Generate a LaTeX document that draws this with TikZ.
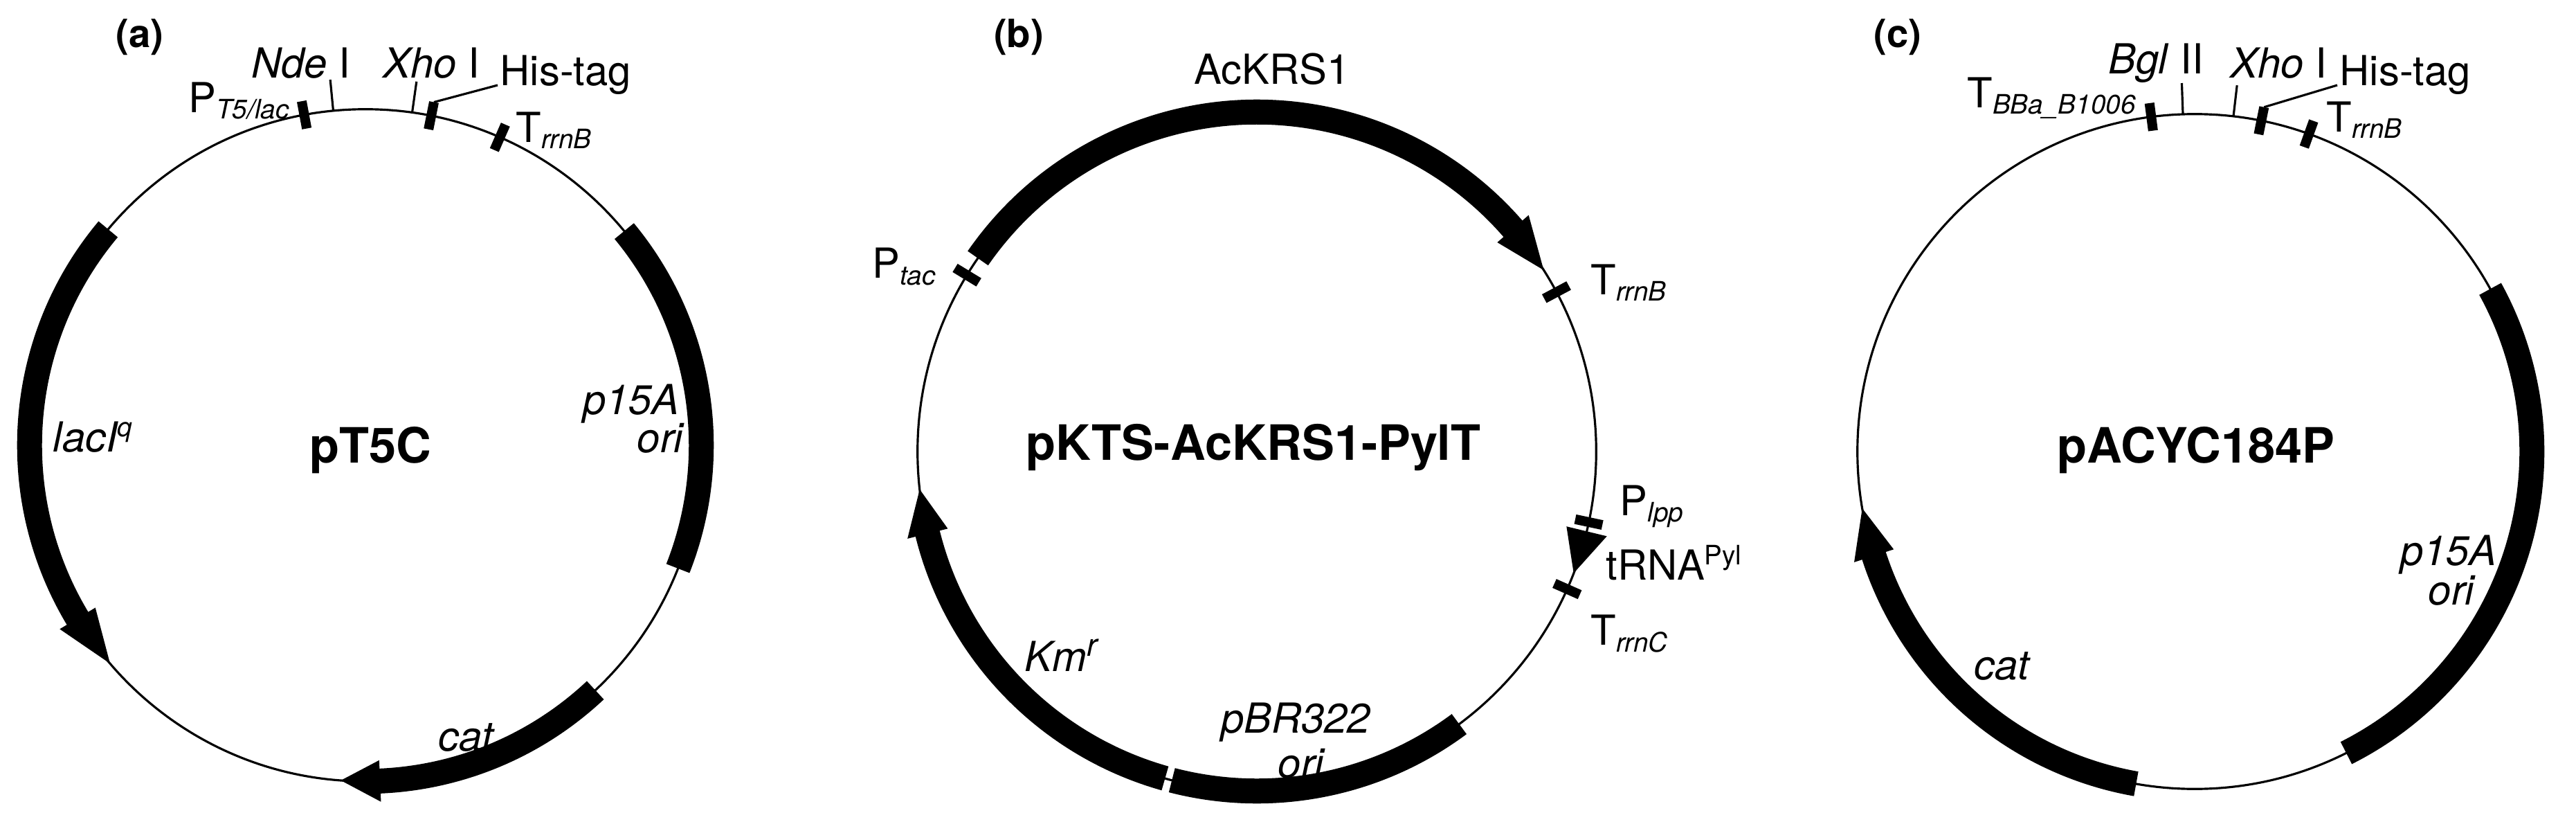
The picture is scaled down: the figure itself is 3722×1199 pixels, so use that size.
\documentclass[tikz,border=0pt]{standalone}
\usepackage{fontspec}
\setmainfont{TeX Gyre Heros}
\begin{document}
\begin{tikzpicture}[x=0.01cm,y=0.01cm,
  bb/.style={line width=0.36cm},
  thin/.style={line width=0.9pt},
  lbl/.style={font=\fontsize{17}{20}\selectfont,inner sep=0pt},
  ttl/.style={font=\fontsize{20}{24}\selectfont\bfseries,inner sep=0pt},
  pan/.style={font=\fontsize{16}{20}\selectfont\bfseries,inner sep=0pt}]
\newcommand{\sbs}[1]{\textsubscript{\itshape\fontsize{11}{12}\selectfont #1}}
\newcommand{\plband}[4]{\draw[bb] ([shift={(#3:#2cm)}]#1) arc[start angle=#3,end angle=#4,radius=#2cm];}
\newcommand{\plhead}[6]{\fill ([shift={(#5:#2cm)}]#1) -- ([shift={(#6:#3cm)}]#1) -- ([shift={(#5:#4cm)}]#1) -- cycle;}
\newcommand{\plbox}[4]{\draw[line width=0.14cm] ([shift={(#4:#2cm)}]#1) -- ([shift={(#4:#3cm)}]#1);}
\newcommand{\plsite}[4]{\draw[thin] ([shift={(#4:#2cm)}]#1) -- ([shift={(#4:#3cm)}]#1);}
\useasboundingbox (0,0) rectangle (3722,1199);
\fill[white] (0,0) rectangle (3722,1199);
% ---------------- (a)
\coordinate (A) at (528,556);
\draw[thin] (A) circle[radius=4.85cm];
\plband{A}{4.85}{140}{212}
\plhead{A}{4.55}{4.85}{5.15}{211}{220.5}
\plband{A}{4.85}{39.6}{-21.5}
\plband{A}{4.85}{-46.8}{-88}
\plhead{A}{4.55}{4.85}{5.15}{-87.5}{-94.2}
\plbox{A}{4.65}{5.05}{100.5}
\plsite{A}{4.85}{5.3}{95.5}
\plsite{A}{4.85}{5.3}{82}
\plbox{A}{4.65}{5.05}{78.7}
\plbox{A}{4.65}{5.05}{66.4}
\coordinate (aht) at (719,1076);
\draw[thin] ([shift={(78.7:5.05cm)}]A) -- (aht);
\node[pan] (pa) at (202,1145) {(a)};
\node[lbl] (nde) at (435,1108) {\itshape Nde\/\upshape\ I};
\node[lbl] (xhoa) at (623,1108) {\itshape Xho\/\upshape\ I};
\node[lbl,anchor=west] (hisa) at (722,1091) {His-tag};
\node[lbl,anchor=east] (pt5) at (420,1053) {P\sbs{T5/lac}};
\node[lbl,anchor=west] (trrna) at (745,1011) {T\sbs{rrnB}};
\node[lbl] (laci) at (135,568) {\itshape lacI\textsuperscript{\fontsize{11}{12}\selectfont q}};
\node[ttl] (pt5c) at (535,549) {pT5C};
\node[lbl] (p15a) at (912,616) {\itshape p15A};
\node[lbl] (oria) at (954,566) {\itshape ori};
\node[lbl] (cata) at (673,134) {\itshape cat};
% ---------------- (b)
\coordinate (B) at (1816,547);
\draw[thin] (B) circle[radius=4.9cm];
\plband{B}{4.9}{145.3}{40}
\plhead{B}{4.6}{4.9}{5.2}{41}{32.3}
\plbox{B}{4.7}{5.1}{148.7}
\plbox{B}{4.7}{5.1}{28}
\plbox{B}{4.7}{5.1}{-12}
\plhead{B}{4.6}{4.9}{5.2}{-13.6}{-21}
\plbox{B}{4.7}{5.1}{-23.9}
\plband{B}{4.9}{-53.4}{-104.5}
\plband{B}{4.9}{254.3}{193}
\plhead{B}{4.6}{4.9}{5.2}{194}{186.4}
\node[pan] (pb) at (1472,1145) {(b)};
\node[lbl] (ackrs) at (1838,1099) {AcKRS1};
\node[lbl] (ptac) at (1307,814) {P\sbs{tac}};
\node[lbl,anchor=west] (trrnb) at (2298,791) {T\sbs{rrnB}};
\node[ttl] (pkts) at (1811,553) {pKTS-AcKRS1-PylT};
\node[lbl,anchor=west] (plpp) at (2340,468) {P\sbs{lpp}};
\node[lbl,anchor=west] (trna) at (2320,386) {tRNA\textsuperscript{\fontsize{11}{12}\selectfont Pyl}};
\node[lbl,anchor=west] (trrnc) at (2298,284) {T\sbs{rrnC}};
\node[lbl] (kmr) at (1534,253) {\itshape Km\textsuperscript{\fontsize{13}{14}\selectfont r}};
\node[lbl] (pbr) at (1872,156) {\itshape pBR322};
\node[lbl] (orib) at (1880,96) {\itshape ori};
% ---------------- (c)
\coordinate (C) at (3171,547);
\draw[thin] (C) circle[radius=4.87cm];
\plbox{C}{4.67}{5.07}{97.4}
\plsite{C}{4.87}{5.32}{92}
\plsite{C}{4.87}{5.32}{83.4}
\plbox{C}{4.67}{5.07}{78.6}
\plbox{C}{4.67}{5.07}{70.2}
\coordinate (cht) at (3377,1076);
\draw[thin] ([shift={(78.6:5.07cm)}]C) -- (cht);
\plband{C}{4.87}{28.8}{-63.3}
\plband{C}{4.87}{260}{197}
\plhead{C}{4.57}{4.87}{5.17}{198}{189.7}
\node[pan] (pc) at (2742,1145) {(c)};
\node[lbl,anchor=east] (tbba) at (3088,1057) {T\sbs{BBa\_B1006}};
\node[lbl] (bgl) at (3115,1108) {\itshape Bgl\/\upshape\ II};
\node[lbl] (xhoc) at (3292,1108) {\itshape Xho\/\upshape\ I};
\node[lbl,anchor=west] (hisc) at (3380,1091) {His-tag};
\node[lbl,anchor=west] (trrnc2) at (3361,1026) {T\sbs{rrnB}};
\node[ttl] (pacyc) at (3173,549) {pACYC184P};
\node[lbl] (p15c) at (3538,398) {\itshape p15A};
\node[lbl] (oric) at (3542,346) {\itshape ori};
\node[lbl] (catc) at (2892,237) {\itshape cat};
\end{tikzpicture}
\end{document}
